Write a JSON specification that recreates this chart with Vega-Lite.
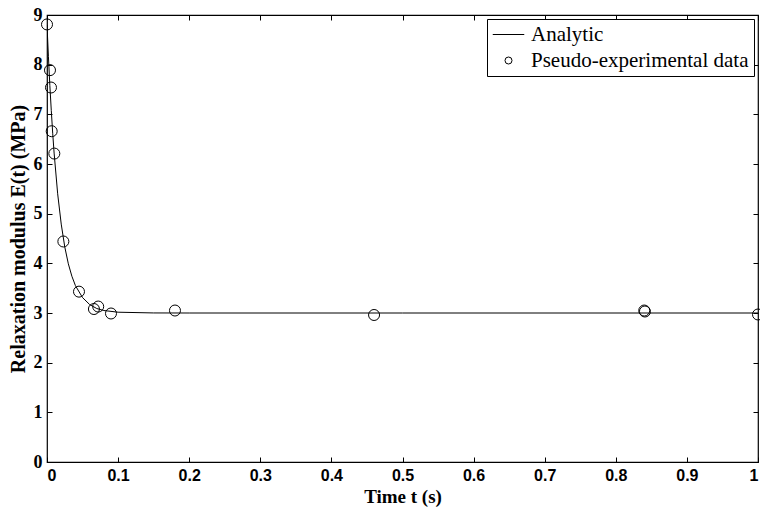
{
  "$schema": "https://vega.github.io/schema/vega-lite/v6.json",
  "width": 711,
  "height": 447,
  "autosize": "none",
  "padding": {"left": 47, "top": 15, "right": 2, "bottom": 51},
  "background": "white",
  "config": {
    "view": {"stroke": "black", "strokeWidth": 1.2},
    "axis": {"grid": false, "domain": false, "tickColor": "black", "tickSize": -5, "tickWidth": 1, "labelColor": "black", "titleColor": "black"}
  },
  "datasets": {
    "curve": [
      {"t": 0, "E": 8.8}, {"t": 0.002, "E": 8.16}, {"t": 0.004, "E": 7.58}, {"t": 0.006, "E": 7.08},
      {"t": 0.008, "E": 6.62}, {"t": 0.01, "E": 6.22}, {"t": 0.015, "E": 5.4}, {"t": 0.02, "E": 4.79},
      {"t": 0.025, "E": 4.33}, {"t": 0.03, "E": 3.99}, {"t": 0.035, "E": 3.74}, {"t": 0.04, "E": 3.55},
      {"t": 0.05, "E": 3.31}, {"t": 0.06, "E": 3.17}, {"t": 0.07, "E": 3.09}, {"t": 0.08, "E": 3.05},
      {"t": 0.1, "E": 3.016}, {"t": 0.15, "E": 3.001}, {"t": 0.2, "E": 3.0}, {"t": 0.5, "E": 3.0}, {"t": 1.0, "E": 3.0}
    ],
    "pts": [
      {"t": 0.0, "E": 8.81, "series": "Pseudo-experimental data"},
      {"t": 0.0042, "E": 7.89, "series": "Pseudo-experimental data"},
      {"t": 0.0056, "E": 7.54, "series": "Pseudo-experimental data"},
      {"t": 0.0066, "E": 6.66, "series": "Pseudo-experimental data"},
      {"t": 0.0103, "E": 6.21, "series": "Pseudo-experimental data"},
      {"t": 0.023, "E": 4.44, "series": "Pseudo-experimental data"},
      {"t": 0.045, "E": 3.43, "series": "Pseudo-experimental data"},
      {"t": 0.066, "E": 3.08, "series": "Pseudo-experimental data"},
      {"t": 0.072, "E": 3.13, "series": "Pseudo-experimental data"},
      {"t": 0.09, "E": 2.99, "series": "Pseudo-experimental data"},
      {"t": 0.18, "E": 3.05, "series": "Pseudo-experimental data"},
      {"t": 0.46, "E": 2.96, "series": "Pseudo-experimental data"},
      {"t": 0.84, "E": 3.05, "series": "Pseudo-experimental data"},
      {"t": 0.841, "E": 3.03, "series": "Pseudo-experimental data"},
      {"t": 1.0, "E": 2.97, "series": "Pseudo-experimental data"}
    ]
  },
  "layer": [
    {
      "data": {"name": "curve"},
      "mark": {"type": "line", "color": "black", "strokeWidth": 1, "clip": true},
      "encoding": {
        "x": {"field": "t", "type": "quantitative", "scale": {"domain": [0, 1], "nice": false},
              "axis": {"orient": "top", "labels": false, "title": null, "values": [0,0.1,0.2,0.3,0.4,0.5,0.6,0.7,0.8,0.9,1]}},
        "y": {"field": "E", "type": "quantitative", "scale": {"domain": [0, 9], "nice": false},
              "axis": {"orient": "right", "labels": false, "title": null, "values": [0,1,2,3,4,5,6,7,8,9]}}
      }
    },
    {
      "data": {"name": "pts"},
      "mark": {"type": "point", "filled": false, "color": "black", "size": 121, "strokeWidth": 1, "opacity": 1},
      "encoding": {
        "x": {"field": "t", "type": "quantitative", "scale": {"domain": [0, 1], "nice": false},
              "axis": {"orient": "bottom", "values": [0,0.1,0.2,0.3,0.4,0.5,0.6,0.7,0.8,0.9,1], "format": ".1~f",
                       "title": "Time t (s)", "labelFont": "Liberation Sans", "labelFontWeight": "bold", "labelFontSize": 16, "labelPadding": 10,
                       "titleFont": "Liberation Serif", "titleFontWeight": "bold", "titleFontSize": 19, "titlePadding": 4}},
        "y": {"field": "E", "type": "quantitative", "scale": {"domain": [0, 9], "nice": false},
              "axis": {"orient": "left", "values": [0,1,2,3,4,5,6,7,8,9],
                       "title": "Relaxation modulus E(t) (MPa)", "labelFont": "Liberation Serif", "labelFontWeight": "bold", "labelFontSize": 18, "labelPadding": 10,
                       "titleFont": "Liberation Serif", "titleFontWeight": "bold", "titleFontSize": 20, "titlePadding": 5}},
        "shape": {"field": "series", "type": "nominal",
                  "scale": {"domain": ["Analytic", "Pseudo-experimental data"], "range": ["M-4.5,0H4.5", "circle"]},
                  "legend": {"title": null, "orient": "top-right", "offset": 4, "strokeColor": "black", "fillColor": "white",
                             "padding": 5, "labelFont": "Liberation Serif", "labelFontSize": 21, "labelColor": "black", "labelLimit": 0,
                             "symbolSize": 49, "symbolStrokeColor": "black", "symbolFillColor": "transparent", "symbolStrokeWidth": 1,
                             "symbolOffset": 6, "labelOffset": 12, "rowPadding": 4}}
      }
    }
  ],
  "resolve": {"axis": {"x": "independent", "y": "independent"}}
}
